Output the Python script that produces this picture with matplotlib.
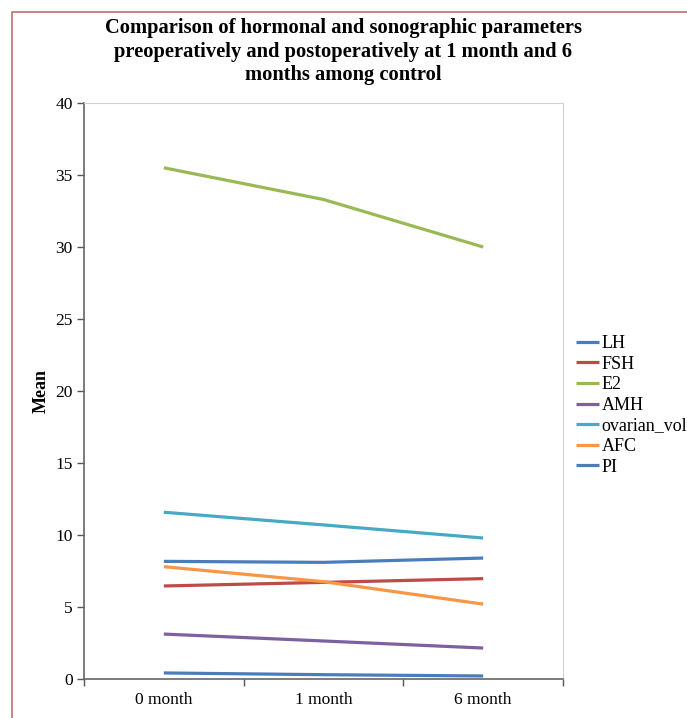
#!/usr/bin/env python3
import numpy as np
import matplotlib
matplotlib.use('Agg')
import matplotlib.pyplot as plt
from matplotlib.patches import Rectangle

# time points and mean values per parameter
months = ['0 month', '1 month', '6 month']
lh = [0.42, 0.30, 0.21]
fsh = [6.46, 6.71, 6.97]
e2 = [35.5, 33.3, 30.0]
amh = [3.12, 2.64, 2.15]
ovarian_vol = [11.58, 10.7, 9.79]
afc = [7.8, 6.76, 5.2]
pi = [8.17, 8.1, 8.4]

series = [
    ('LH', lh, '#4A7EBB'),
    ('FSH', fsh, '#BE4B48'),
    ('E2', e2, '#98B954'),
    ('AMH', amh, '#7D60A0'),
    ('ovarian_vol', ovarian_vol, '#46AAC5'),
    ('AFC', afc, '#F79646'),
    ('PI', pi, '#4A7EBB'),
]

plt.rcParams['font.family'] = ['Liberation Serif', 'DejaVu Serif']

fig = plt.figure(figsize=(6.87, 7.18), dpi=100)
ax = fig.add_axes([84 / 687, 1 - 679 / 718, (563 - 84) / 687, (679 - 103) / 718])

x = np.arange(len(months))
for name, vals, color in series:
    ax.plot(x, vals, color=color, lw=2.3, label=name, solid_capstyle='butt')

ax.set_xlim(-0.5, len(months) - 0.5)
ax.set_ylim(0, 40)
ax.set_yticks(np.arange(0, 41, 5))
ax.set_xticks(np.arange(-0.5, len(months), 1.0))
ax.set_xticklabels([])
ax.set_xticks(x, minor=True)
ax.set_xticklabels(months, minor=True, fontsize=12.5)
ax.tick_params(axis='x', which='minor', length=0, pad=9)
ax.tick_params(axis='x', which='major', length=5, width=1, color='#555555', direction='out')
ax.tick_params(axis='y', length=5, width=1, color='#555555', direction='out', labelsize=12.5, pad=3)

for s in ['left', 'bottom']:
    ax.spines[s].set_color('#666666')
    ax.spines[s].set_linewidth(1.2)
for s in ['top', 'right']:
    ax.spines[s].set_color('#D0D0D0')
    ax.spines[s].set_linewidth(0.8)

ax.set_ylabel('Mean', fontsize=13, fontweight='bold', labelpad=4)

fig.suptitle('Comparison of hormonal and sonographic parameters\n'
             'preoperatively and postoperatively at 1 month and 6\n'
             'months among control',
             fontsize=14.8, fontweight='bold', y=0.975, linespacing=1.25)

ax.legend(loc='center left', bbox_to_anchor=(1.0, 0.475), frameon=False,
          fontsize=13, handlelength=1.3, handletextpad=0.15,
          labelspacing=0.2, borderaxespad=0.3)

# outer frame of the chart area
fig.patches.append(Rectangle((12 / 687, -0.1), 1.2, 1.1 - 12 / 718,
                             transform=fig.transFigure, fill=False,
                             edgecolor='#C0706F', lw=1.2))

fig.savefig('out.png', dpi=100)
